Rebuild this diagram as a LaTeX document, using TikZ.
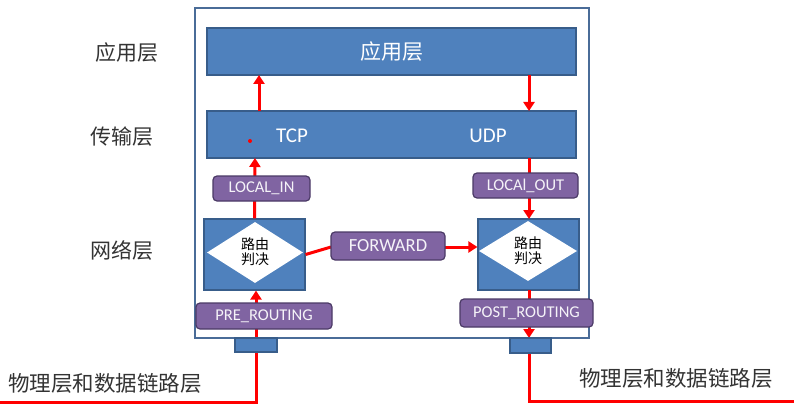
\documentclass[tikz,border=0pt]{standalone}
\usepackage{fontspec}
\setmainfont{Carlito}
\newfontfamily\cjk{Noto Sans CJK SC}
\usetikzlibrary{arrows.meta,shapes.geometric}
\definecolor{boxblue}{HTML}{4F81BD}
\definecolor{boxedge}{HTML}{385D8A}
\definecolor{purp}{HTML}{8064A2}
\definecolor{purpedge}{HTML}{4B3A66}
\definecolor{frameedge}{HTML}{4A6C98}
\definecolor{lbl}{HTML}{333333}
\begin{document}
\begin{tikzpicture}[x=1pt,y=-1pt,
  bluebox/.style={draw=boxedge,fill=boxblue,line width=1.2pt,text=white},
  purpbox/.style={draw=purpedge,fill=purp,line width=1.2pt,rounded corners=4pt,text=white!92!purp,font=\fontsize{16.5}{18}\selectfont},
  dia/.style={diamond,fill=white,draw=none,inner sep=0pt,aspect=1.6},
  redl/.style={draw=red,line width=3pt},
  reda/.style={redl,-{Triangle[width=11pt,length=9pt]}},
  sidelbl/.style={text=lbl,font=\cjk\fontsize{21}{23}\selectfont},
]
\useasboundingbox (0,0) rectangle (794,414);
% outer frame
\node[draw=frameedge,line width=1.4pt,fill=white,minimum width=394pt,minimum height=330pt,inner sep=0pt] (frame) at (392,173) {};
% layer boxes
\node[bluebox,minimum width=369pt,minimum height=47pt,inner sep=0pt,font=\cjk\fontsize{21}{23}\selectfont] (app) at (391.5,51.5) {应用层};
\node[bluebox,minimum width=369pt,minimum height=47pt,inner sep=0pt] (trans) at (391.5,134.5) {};
\node[text=white,font=\fontsize{21}{23}\selectfont] (tcp) at (292,136) {TCP};
\node[text=white,font=\fontsize{21}{23}\selectfont] (udp) at (488,136) {UDP};
\fill[red] (250,141) circle (2pt);
% router squares
\node[bluebox,minimum width=101pt,minimum height=71pt,inner sep=0pt] (lsq) at (254.5,254.5) {};
\node[bluebox,minimum width=101pt,minimum height=71pt,inner sep=0pt] (rsq) at (528.5,254.5) {};
\node[dia,minimum width=96pt,minimum height=61pt] (ldia) at (255,252.5) {};
\node[dia,minimum width=98pt,minimum height=60pt] (rdia) at (528,251) {};
\node[font=\cjk\fontsize{14}{15}\selectfont,align=center,inner sep=0pt] (ltxt) at (255,252) {路由\\判决};
\node[font=\cjk\fontsize{14}{15}\selectfont,align=center,inner sep=0pt] (rtxt) at (528,251) {路由\\判决};
% coordinates for connectors
\coordinate (tin) at (259,111);
\coordinate (ain) at (259,75);
\coordinate (aout) at (529,75);
\coordinate (tout) at (529,111);
\coordinate (tinb) at (255,158);
\coordinate (toutb) at (529,158);
\coordinate (rsqt) at (529,219);
\coordinate (rsqb) at (529,290);
\coordinate (fb) at (529,338);
\coordinate (lb0) at (0,402);
\coordinate (lb1) at (256,402);
\coordinate (rb0) at (529,345);
\coordinate (rb1) at (529,401);
\coordinate (rb2) at (794,401);
% red connectors
\draw[reda] (tin) -- (ain);
\draw[reda] (aout) -- (tout);
\draw[reda] (lsq.north) -- (tinb);
\draw[reda] (toutb) -- (rsqt);
\draw[redl] (lsq.east) -- (331,247);
\coordinate (fwdr) at (445,247);
\draw[reda] (fwdr) -- (rsq.west |- fwdr);
\draw[reda] (lb0) -- (lb1) -- (lsq.south -| lb1);
\draw[reda] (rsqb) -- (fb);
\draw[redl] (rb0) -- (rb1) -- (rb2);
% purple hook boxes
\node[purpbox,minimum width=97pt,minimum height=25pt,inner sep=0pt] (lin) at (261.5,188.5) {LOCAL\_IN};
\node[purpbox,minimum width=105pt,minimum height=25pt,inner sep=0pt] (lout) at (525.5,185.5) {LOCAl\_OUT};
\node[purpbox,minimum width=114pt,minimum height=28pt,inner sep=0pt,font=\fontsize{18.5}{20}\selectfont] (fwd) at (388,246) {FORWARD};
\node[purpbox,minimum width=136pt,minimum height=26pt,inner sep=0pt] (pre) at (264,316) {PRE\_ROUTING};
\node[purpbox,minimum width=133pt,minimum height=28pt,inner sep=0pt] (post) at (526.5,313) {POST\_ROUTING};
% tabs
\node[bluebox,minimum width=42pt,minimum height=14pt,inner sep=0pt] (ltab) at (256,345) {};
\node[bluebox,minimum width=41pt,minimum height=15pt,inner sep=0pt] (rtab) at (530.5,345.5) {};
% side labels
\node[sidelbl] (l1) at (127,53) {应用层};
\node[sidelbl] (l2) at (121.5,137) {传输层};
\node[sidelbl] (l3) at (121.5,250) {网络层};
\node[sidelbl,font=\cjk\fontsize{21.5}{23}\selectfont] (l4) at (105,383) {物理层和数据链路层};
\node[sidelbl,font=\cjk\fontsize{21.5}{23}\selectfont] (l5) at (676,378) {物理层和数据链路层};
\end{tikzpicture}
\end{document}
